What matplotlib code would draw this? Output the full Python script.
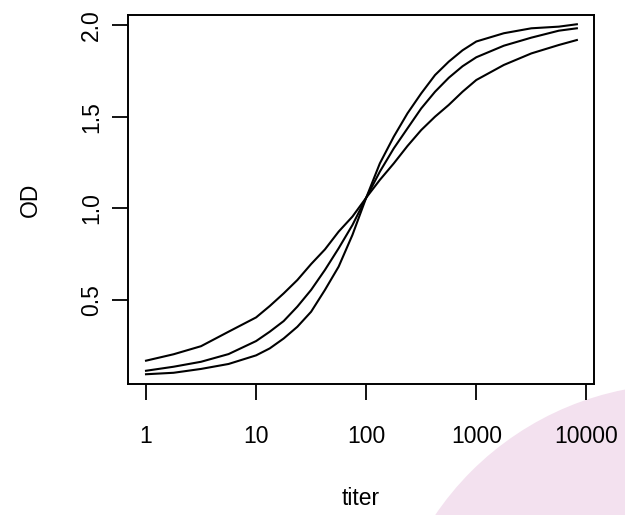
import matplotlib
matplotlib.use("Agg")
import matplotlib.pyplot as plt
from matplotlib.patches import Ellipse

# titer dilutions (eighth decades in the middle, last point 8192)
titer = [1, 1.78, 3.16, 5.62, 10, 13.3, 17.8, 23.7, 31.6, 42.2, 56.2, 75.0,
         100, 133, 178, 237, 316, 422, 562, 750, 1000, 1778, 3162, 5623, 8192]

# OD values
od_shallow = [0.169, 0.204, 0.248, 0.327, 0.405, 0.467, 0.536, 0.609, 0.696,
              0.776, 0.873, 0.955, 1.058, 1.155, 1.245, 1.340, 1.427, 1.500,
              1.564, 1.636, 1.700, 1.782, 1.845, 1.891, 1.918]
od_middle = [0.114, 0.136, 0.163, 0.205, 0.276, 0.327, 0.385, 0.464, 0.555,
             0.664, 0.782, 0.909, 1.058, 1.200, 1.327, 1.436, 1.545, 1.636,
             1.712, 1.775, 1.824, 1.887, 1.931, 1.969, 1.982]
od_steep = [0.095, 0.103, 0.124, 0.151, 0.198, 0.236, 0.290, 0.354, 0.436,
            0.555, 0.682, 0.855, 1.058, 1.245, 1.391, 1.518, 1.627, 1.727,
            1.800, 1.862, 1.910, 1.955, 1.982, 1.991, 2.004]

xticks = [1, 10, 100, 1000, 10000]
xticklabels = ["1", "10", "100", "1000", "10000"]
yticks = [0.5, 1.0, 1.5, 2.0]
yticklabels = ["0.5", "1.0", "1.5", "2.0"]

plt.rcParams['font.family'] = ['Liberation Sans', 'DejaVu Sans']

fig = plt.figure(figsize=(6.25, 5.15), dpi=100)

# pink blob in the lower right corner
blob = Ellipse((682 / 625, 1 - 682 / 515), 2 * 298 / 625, 2 * 298 / 515,
               transform=fig.transFigure, facecolor='#f3e1ef', edgecolor='none',
               zorder=-5)
fig.patches.append(blob)

ax = fig.add_axes([128.3 / 625, (515 - 384) / 515, (594 - 128.3) / 625, (384 - 15) / 515])
ax.set_xscale('log')
ax.patch.set_alpha(0)

for od in [od_shallow, od_middle, od_steep]:
    ax.plot(titer, od, color='black', linewidth=1.5)

ax.set_xlim(10 ** -0.1608, 10 ** 4.069)
ax.set_ylim(0.0418, 2.0545)

ax.set_xticks(xticks)
ax.set_xticklabels(xticklabels)
ax.minorticks_off()
ax.set_yticks(yticks)
ax.set_yticklabels(yticklabels, rotation=90, va='center')

ax.tick_params(axis='both', direction='out', length=11.5, width=1.3,
               labelsize=16.5, color='black')
ax.tick_params(axis='x', pad=18)
ax.tick_params(axis='y', pad=6.5)

for s in ax.spines.values():
    s.set_linewidth(1.4)

ax.set_xlabel('titer', fontsize=16.5, labelpad=28)
ax.set_ylabel('OD', fontsize=16.5, labelpad=28)

fig.savefig('out.png', dpi=100)
